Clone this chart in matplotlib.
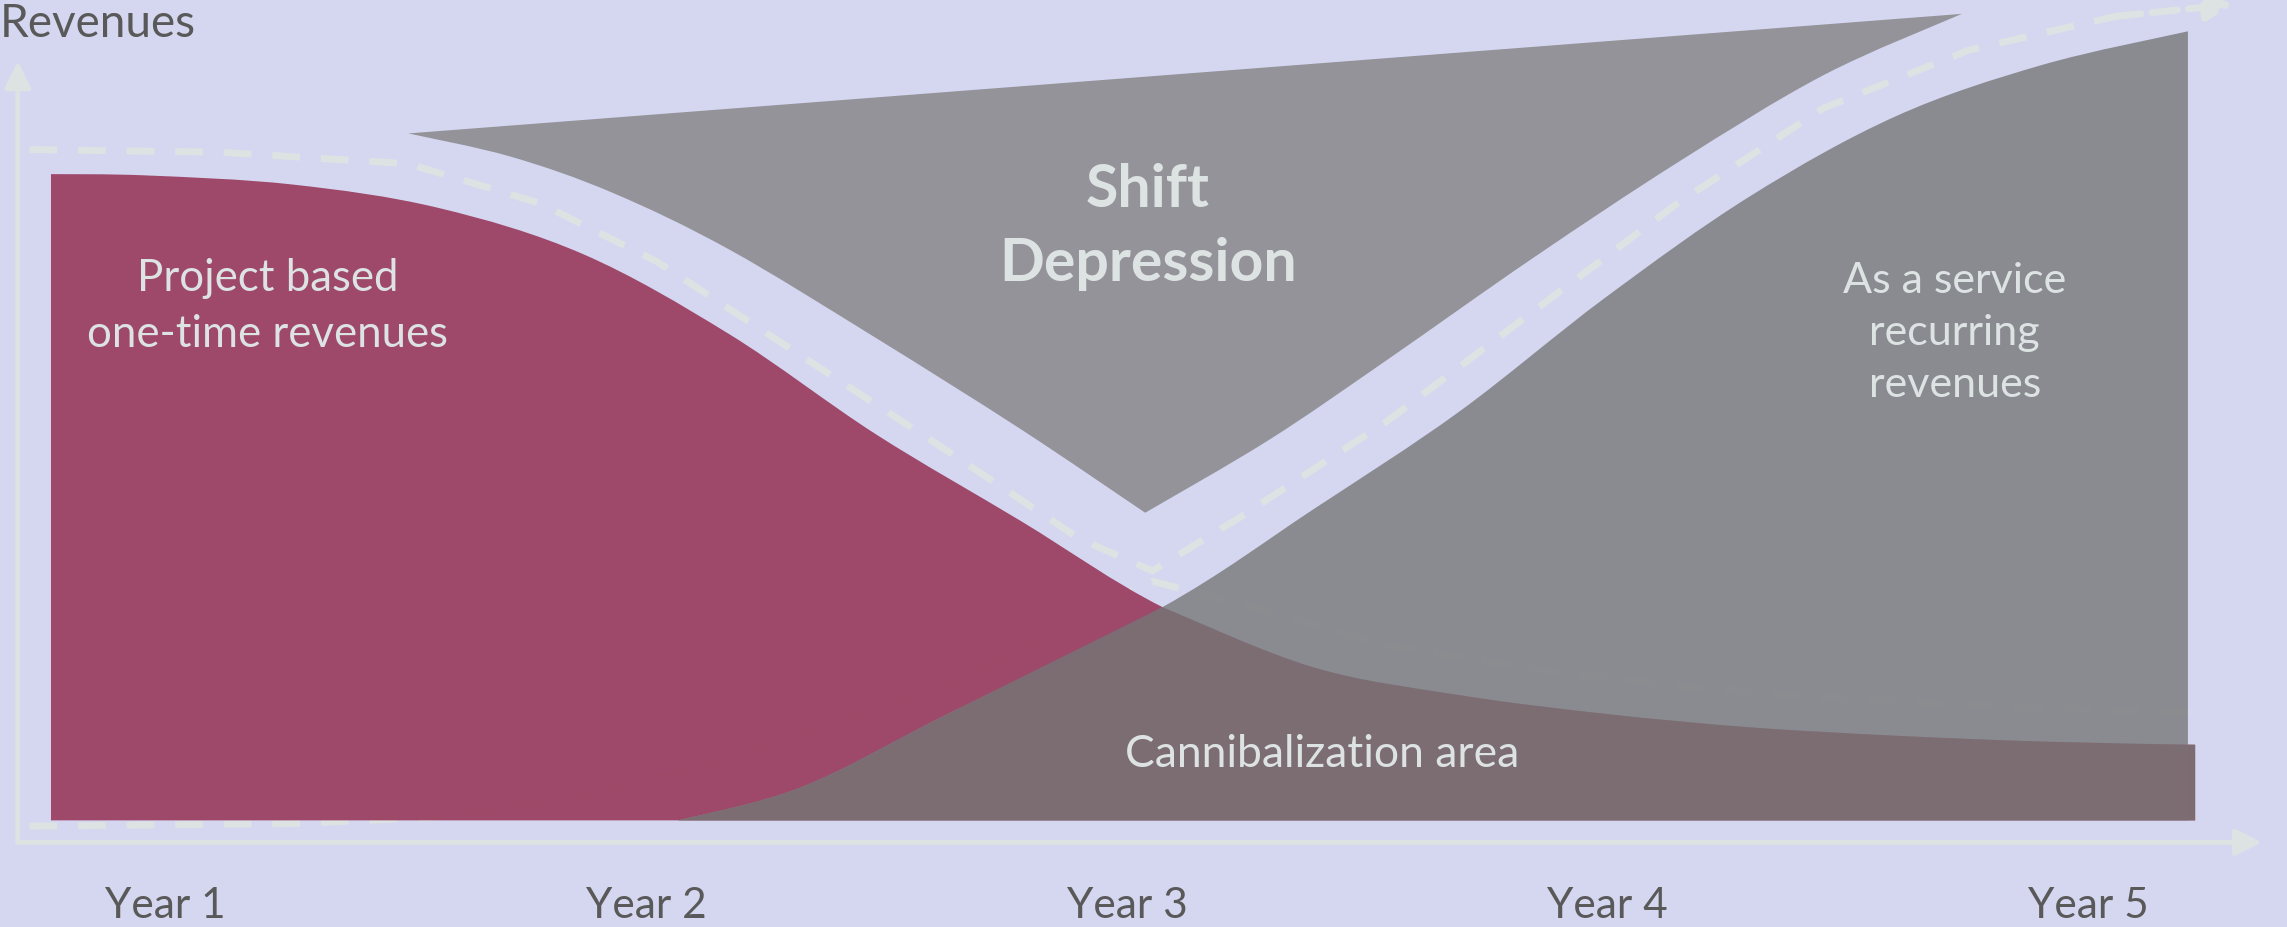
import matplotlib
matplotlib.use("Agg")
import matplotlib.pyplot as plt
from matplotlib.path import Path
from matplotlib.patches import PathPatch
import numpy as np

plt.rcParams['font.family'] = ['Lato', 'DejaVu Sans']

# x in years, y in revenue (100 = project revenue at start)
years = [1, 2, 3, 4, 5]
year_labels = ['Year 1', 'Year 2', 'Year 3', 'Year 4', 'Year 5']

# project based one-time revenues (top edge of the magenta area)
project_x = [0.763, 0.961, 1.264, 1.567, 1.870, 2.174, 2.477, 2.780, 3.074,
             3.387, 3.690, 3.993, 4.296, 4.600, 4.903, 5.221]
project_y = [100.0, 99.8, 98.4, 94.8, 87.6, 75.2, 59.8, 46.3, 33.0,
             23.7, 19.4, 16.5, 14.4, 13.1, 12.2, 11.7]

# as a service recurring revenues (top edge of the grey area)
service_x = [2.067, 2.325, 2.628, 3.074, 3.387, 3.690, 3.993, 4.296, 4.600, 4.903, 5.206]
service_y = [0.0, 5.2, 16.5, 33.0, 48.1, 63.2, 80.8, 96.6, 109.0, 116.9, 122.1]
cross = 3.074  # where both curves meet

# shift depression wedge
shift_top_x = [1.506, 4.736]
shift_top_y = [106.3, 124.8]
shift_right_x = [4.736, 4.448, 4.145, 3.842, 3.538, 3.296, 3.038]
shift_right_y = [124.8, 115.3, 101.8, 86.9, 71.1, 58.9, 47.6]
shift_left_x = [1.506, 1.719, 1.931, 2.174, 2.477, 2.780, 3.038]
shift_left_y = [106.3, 102.7, 97.1, 88.3, 74.7, 60.5, 47.6]

# dashed guide lines
guide_x = [0.718, 1.112, 1.506, 1.779, 2.022, 2.325, 2.628, 2.901, 3.053,
           3.235, 3.538, 3.842, 4.145, 4.448, 4.751, 5.055, 5.300]
guide_y = [103.8, 103.4, 101.6, 95.5, 86.5, 71.8, 57.1, 43.6, 38.6,
           46.9, 61.6, 78.6, 95.5, 110.2, 119.2, 124.4, 126.3]
low_x = [0.718, 1.264, 1.567, 1.870, 2.113, 2.356, 2.628, 2.840, 3.053,
         3.235, 3.538, 3.842, 4.145, 4.448, 4.751, 5.055, 5.221]
low_y = [-0.9, -0.5, 0.5, 3.5, 8.5, 14.5, 20.3, 29.4, 37.0,
         33.5, 27.1, 23.5, 20.8, 19.0, 17.8, 17.0, 16.7]

MAGENTA = '#9b3f62'
SERVICE = '#86878b'
SHIFT = '#919196'
CANNIBAL = '#7c6d73'
LIGHT = '#dde3e2'
DARKTXT = '#595959'
BG = '#d5d7f1'


def curve(xs, ys, first=True):
    # Catmull-Rom through the read points, as cubic bezier pieces
    pts = np.column_stack([xs, ys])
    verts = [pts[0]]
    codes = [Path.MOVETO if first else Path.LINETO]
    n = len(pts)
    for i in range(n - 1):
        p0 = pts[i - 1] if i > 0 else pts[i]
        p1, p2 = pts[i], pts[i + 1]
        p3 = pts[i + 2] if i + 2 < n else pts[i + 1]
        verts += [p1 + (p2 - p0) / 6, p2 - (p3 - p1) / 6, p2]
        codes += [Path.CURVE4] * 3
    return verts, codes


def area(pieces, base=0.0):
    # pieces: list of (xs, ys) joined with corners
    x0, x1 = pieces[0][0][0], pieces[-1][0][-1]
    v, c = [(x0, base)], [Path.MOVETO]
    for xs, ys in pieces:
        pv, pc = curve(xs, ys, first=False)
        v += pv; c += pc
    v += [(x1, base), (x0, base)]
    c += [Path.LINETO, Path.CLOSEPOLY]
    return Path(v, c)


fig = plt.figure(figsize=(22.87, 9.28), dpi=100)
fig.patch.set_facecolor(BG)
ax = fig.add_axes([0, 0, 1, 1])
ax.set_facecolor(BG)
ax.set_xlim(0.657, 5.412)
ax.set_ylim(-16.5, 127.1)
ax.axis('off')

# faint lower guide, seen through the areas
ax.plot(low_x, low_y, color=LIGHT, lw=5, ls=(0, (4, 3)), zorder=1)

ax.add_patch(PathPatch(area([(project_x, project_y)]), fc=MAGENTA, ec='none', alpha=0.94, zorder=2))
ax.add_patch(PathPatch(area([(service_x, service_y)]), fc=SERVICE, ec='none', alpha=0.94, zorder=2))

# overlap: service curve up to the crossing, then the project curve
ci = service_x.index(cross)
pj = project_x.index(cross)
ax.add_patch(PathPatch(area([(service_x[:ci + 1], service_y[:ci + 1]),
                             (project_x[pj:], project_y[pj:])]),
                       fc=CANNIBAL, ec='none', alpha=0.97, zorder=3))

# shift depression wedge
v1, c1 = curve(shift_top_x, shift_top_y)
v2, c2 = curve(shift_right_x, shift_right_y, first=False)
v3, c3 = curve(shift_left_x[::-1], shift_left_y[::-1], first=False)
ax.add_patch(PathPatch(Path(v1 + v2 + v3 + [v1[0]], c1 + c2 + c3 + [Path.CLOSEPOLY]),
                       fc=SHIFT, ec='none', alpha=0.96, zorder=2))

# upper dashed guide with arrow
ax.plot(guide_x[:-1], guide_y[:-1], color=LIGHT, lw=5, ls=(0, (4, 3)), zorder=4)
ax.annotate('', xy=(guide_x[-1], guide_y[-1]), xytext=(guide_x[-2], guide_y[-2]),
            arrowprops=dict(arrowstyle='-|>', color=LIGHT, lw=5, ls='--',
                            mutation_scale=40, shrinkA=0, shrinkB=0), zorder=4)

# axes arrows
ax.annotate('', xy=(0.694, 117.5), xytext=(0.694, -3.4),
            arrowprops=dict(arrowstyle='-|>', color=LIGHT, lw=3.5,
                            mutation_scale=40, shrinkA=0, shrinkB=0), zorder=4)
ax.annotate('', xy=(5.36, -3.4), xytext=(0.694, -3.4),
            arrowprops=dict(arrowstyle='-|>', color=LIGHT, lw=3.5,
                            mutation_scale=40, shrinkA=0, shrinkB=0), zorder=4)

# texts
ax.text(0.0, 0.997, 'Revenues', transform=ax.transAxes, ha='left', va='top',
        fontsize=33, color=DARKTXT, zorder=6)
for x, lab in zip(years, year_labels):
    ax.text(x, -13.1, lab, ha='center', va='center', fontsize=30.5, color=DARKTXT, zorder=6)

ax.text(1.213, 79.7, 'Project based\none-time revenues', ha='center', va='center',
        fontsize=31.5, color=LIGHT, linespacing=1.45, zorder=6)
ax.text(3.043, 92.0, 'Shift\nDepression', ha='center', va='center', fontsize=42.5,
        fontweight='bold', color=LIGHT, linespacing=1.45, zorder=6)
ax.text(4.721, 75.6, 'As a service\nrecurring\nrevenues', ha='center', va='center',
        fontsize=31, color=LIGHT, linespacing=1.45, zorder=6)
ax.text(3.405, 10.4, 'Cannibalization area', ha='center', va='center',
        fontsize=32, color=LIGHT, zorder=6)

fig.savefig('out.png', dpi=100, facecolor=BG)
